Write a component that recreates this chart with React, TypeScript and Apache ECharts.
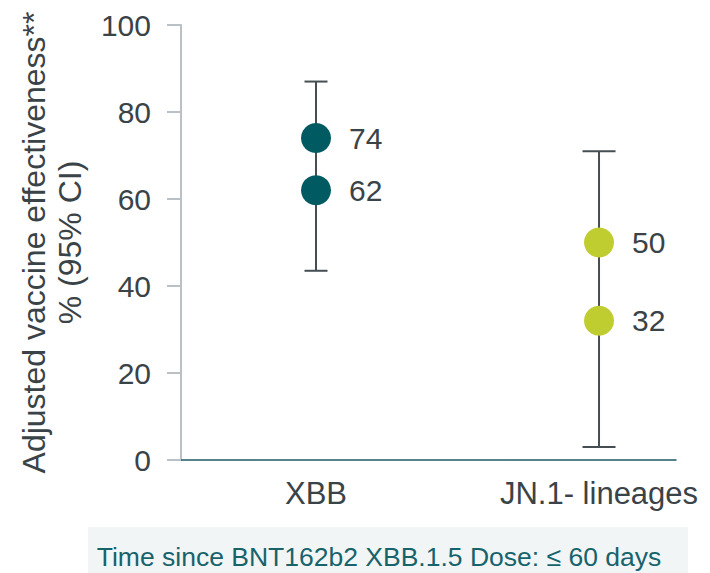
import React, { useEffect, useRef } from "react";
import * as echarts from "echarts";

const categories = ["XBB", "JN.1- lineages"];
const estimates = [
  [74, 62],
  [50, 32],
];
const ciLower = [43.5, 3];
const ciUpper = [87, 71];
const yTicks = [0, 20, 40, 60, 80, 100];
const yTitle = "Adjusted vaccine effectiveness**\n% (95% CI)";
const footnote = "Time since BNT162b2 XBB.1.5 Dose: \u2264 60 days";

const pointColors = ["#005a62", "#c0cd31"];
const capHalf = [11.5, 16.5];
const FONT = "'Liberation Sans', Arial, sans-serif";
const TEXT = "#3a4347";

export default function App() {
  const ref = useRef<HTMLDivElement>(null);
  useEffect(() => {
    document.body.style.margin = "0";
    const chart = echarts.init(ref.current!, null, { renderer: "svg" });

    const pointData: any[] = [];
    estimates.forEach((vals, ci) => {
      vals.forEach((v) => {
        pointData.push({
          value: [ci, v],
          itemStyle: { color: pointColors[ci], opacity: 1 },
        });
      });
    });
    const barData = categories.map((_, i) => [i, ciLower[i], ciUpper[i]]);

    chart.setOption({
      animation: false,
      textStyle: { fontFamily: FONT },
      grid: { left: 181, right: 34, top: 25, bottom: 113 },
      xAxis: {
        type: "value",
        min: -0.477,
        max: 1.272,
        splitLine: { show: false },
        axisLine: { show: true, onZero: false, lineStyle: { color: "#1f5a66", width: 1.5 } },
        axisTick: { show: false },
        axisLabel: {
          customValues: categories.map((_, i) => i),
          formatter: (v: number) => categories[Math.round(v)] ?? "",
          fontSize: 31,
          color: TEXT,
          margin: 18,
          fontFamily: FONT,
        },
      },
      yAxis: {
        type: "value",
        min: yTicks[0],
        max: yTicks[yTicks.length - 1],
        interval: yTicks[1] - yTicks[0],
        splitLine: { show: false },
        axisLine: { show: true, onZero: false, lineStyle: { color: "#b9c1c7", width: 2 } },
        axisTick: { show: true, length: 14, lineStyle: { color: "#b9c1c7", width: 2 } },
        axisLabel: { fontSize: 30, color: TEXT, margin: 30, fontFamily: FONT },
        name: yTitle,
        nameLocation: "middle",
        nameRotate: 90,
        nameGap: 93,
        nameTextStyle: { fontSize: 32, color: TEXT, lineHeight: 36, fontFamily: FONT },
      },
      series: [
        {
          type: "custom",
          z: 1,
          data: barData,
          renderItem: (params: any, api: any) => {
            const x = api.value(0);
            const lo = api.coord([x, api.value(1)]);
            const hi = api.coord([x, api.value(2)]);
            const h = capHalf[params.dataIndex];
            const style = { stroke: "#454e52", lineWidth: 2 };
            return {
              type: "group",
              children: [
                { type: "line", shape: { x1: lo[0], y1: lo[1], x2: hi[0], y2: hi[1] }, style },
                { type: "line", shape: { x1: hi[0] - h, y1: hi[1], x2: hi[0] + h, y2: hi[1] }, style },
                { type: "line", shape: { x1: lo[0] - h, y1: lo[1], x2: lo[0] + h, y2: lo[1] }, style },
              ],
            };
          },
        },
        {
          type: "scatter",
          z: 5,
          symbolSize: 30,
          data: pointData,
          label: {
            show: true,
            position: "right",
            distance: 18,
            fontSize: 30,
            color: TEXT,
            fontFamily: FONT,
            formatter: (p: any) => String(p.value[1]),
          },
        },
      ],
      graphic: [
        {
          type: "rect",
          z: 0,
          shape: { x: 88, y: 527, width: 600, height: 46 },
          style: { fill: "#f2f5f5" },
        },
        {
          type: "text",
          x: 379,
          y: 557,
          style: {
            text: footnote,
            fontSize: 26.5,
            fill: "#17636c",
            fontFamily: FONT,
            textAlign: "center",
            textVerticalAlign: "middle",
          },
        },
      ],
    });
    return () => chart.dispose();
  }, []);
  return <div ref={ref} style={{ width: 710, height: 573 }} />;
}
